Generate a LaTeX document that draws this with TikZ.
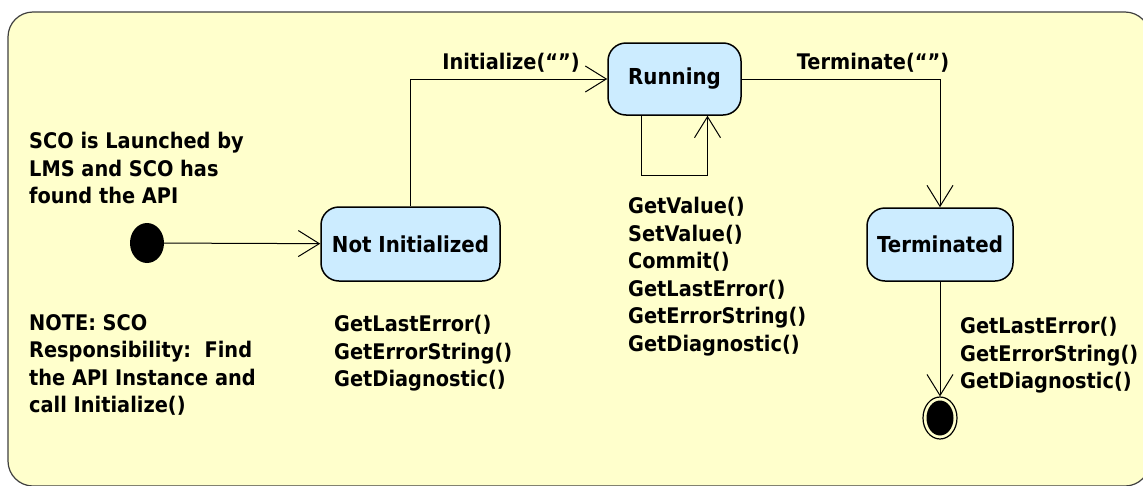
\documentclass[tikz,border=0pt]{standalone}
\usepackage{fontspec}
\setmainfont{DejaVu Sans}[FakeStretch=0.9]
\usetikzlibrary{arrows.meta,shapes.geometric}
\definecolor{framefill}{HTML}{FFFFCC}
\definecolor{stfill}{HTML}{CCECFF}
\begin{document}
\begin{tikzpicture}[x=1pt,y=-1pt,
  txt/.style={font=\bfseries\fontsize{21.5}{27.5}\selectfont, align=left, inner sep=0pt, anchor=north west},
  lbl/.style={font=\bfseries\fontsize{21.5}{27.5}\selectfont, inner sep=0pt},
  state/.style={draw=black, line width=1.5pt, fill=stfill, rounded corners=18pt,
    font=\bfseries\fontsize{22}{27}\selectfont, inner sep=0pt},
  conn/.style={line width=1pt, -{Straight Barb[length=21pt,width=26pt]}},
]
\useasboundingbox (0,0) rectangle (1143,485);
\fill[white] (0,0) rectangle (1143,485);
\draw[draw=black!75, line width=1.2pt, fill=framefill, rounded corners=25pt] (8,12) rectangle (1150,486);

\node[state, minimum width=179pt, minimum height=74pt] (ni) at (410.5,244) {Not Initialized};
\node[state, minimum width=133pt, minimum height=72pt] (run) at (674.5,79) {Running};
\node[state, minimum width=146pt, minimum height=73pt] (term) at (940,244.5) {Terminated};

\node[ellipse, fill=black, minimum width=34pt, minimum height=40pt, inner sep=0pt] (init) at (147,243) {};
\node[ellipse, draw=black, line width=1.2pt, fill=framefill, minimum width=34pt, minimum height=42pt, inner sep=0pt] (fin) at (940,418) {};
\fill[black] (fin.center) ellipse (13.5pt and 17.5pt);

\draw[conn] (init) -- (ni);
\draw[conn] (ni.north) |- (run.west);
\draw[conn] (run.east) -| (term.north);
\draw[conn] ([xshift=-33pt]run.south) -- ++(0,60) coordinate (loopc) -| ([xshift=33pt]run.south);
\draw[conn] (term) -- (fin);

\node[lbl] (linit) at (511,63) {Initialize(“”)};
\node[lbl] (lterm) at (873,63) {Terminate(“”)};

\node[txt] (sco) at (29,132) {SCO is Launched by\\LMS and SCO has\\found the API};
\node[txt] (note) at (29,314) {NOTE: SCO\\Responsibility:\ \ Find\\the API Instance and\\call Initialize()};
\node[txt] (mni) at (334,315) {GetLastError()\\GetErrorString()\\GetDiagnostic()};
\node[txt] (mrun) at (628,197) {GetValue()\\SetValue()\\Commit()\\GetLastError()\\GetErrorString()\\GetDiagnostic()};
\node[txt] (mterm) at (960,317) {GetLastError()\\GetErrorString()\\GetDiagnostic()};
\end{tikzpicture}
\end{document}
